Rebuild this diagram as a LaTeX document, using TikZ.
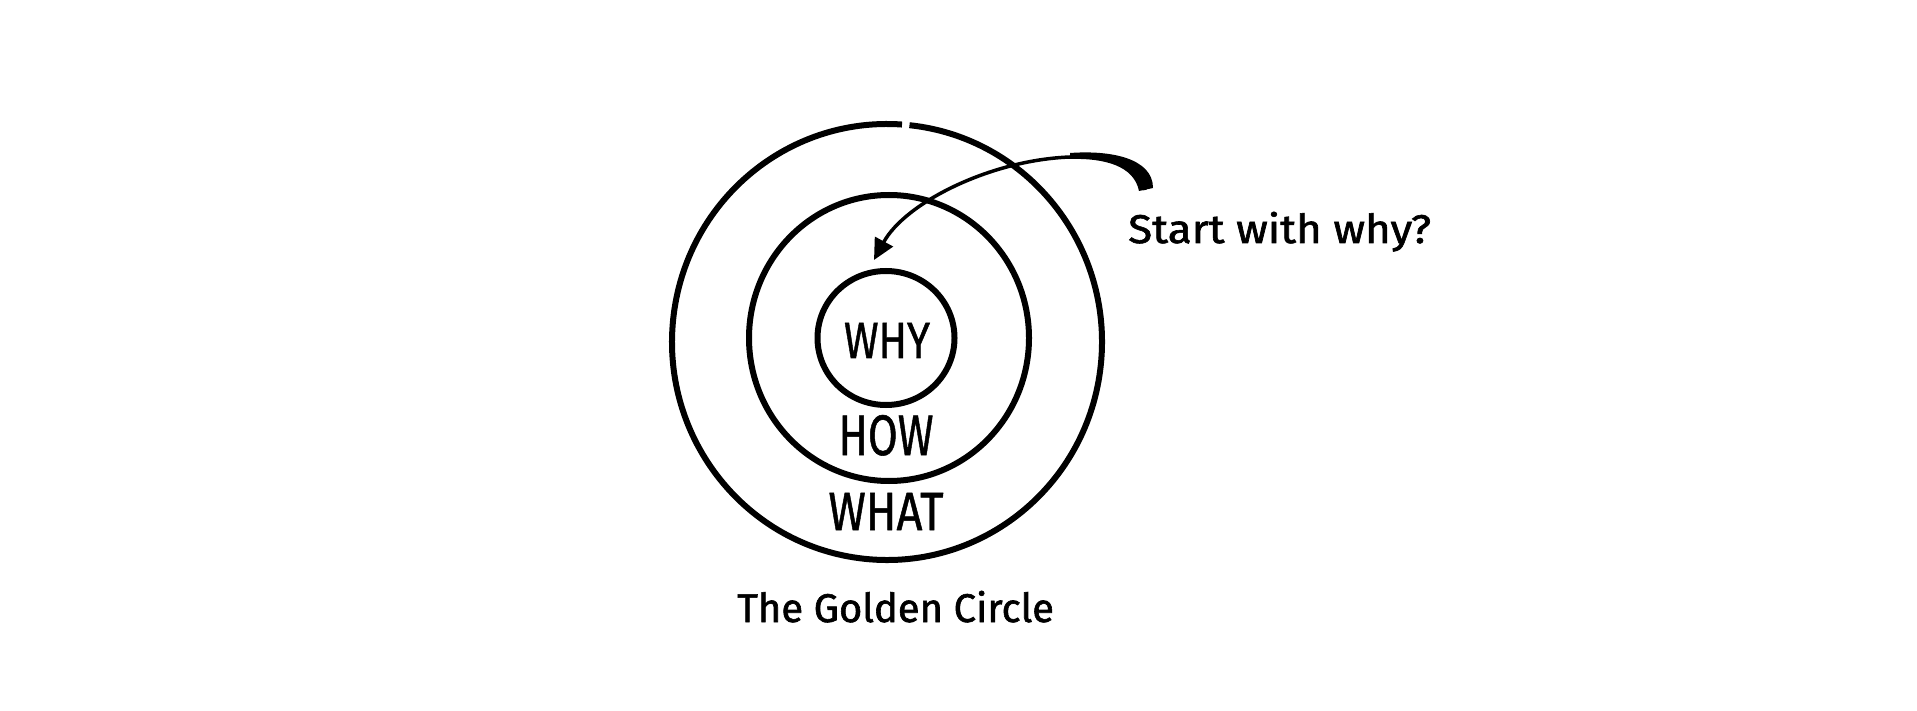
\documentclass[tikz,border=0pt]{standalone}
\usepackage{fontspec}
\usepackage{graphicx}
\setmainfont{Fira Sans}
\usetikzlibrary{shapes.geometric,arrows.meta}
\tikzset{
  ring/.style={draw=black, line width=6pt, ellipse, inner sep=0pt},
  caption/.style={font=\fontsize{40}{46}\selectfont\addfontfeature{FakeBold=1.5}, inner sep=0pt},
  word/.style={inner sep=0pt, anchor=base, font=\addfontfeature{FakeBold=1}},
  pointer/.style={line width=3.5pt, -{Triangle[length=21pt,width=20pt]}},
}
\begin{document}
\begin{tikzpicture}[x=1pt,y=-1pt]
\useasboundingbox (0,0) rectangle (1917,711);
% rings
\draw[line width=6pt] (887,342) ++(-84:215 and 218) arc[start angle=-84, end angle=274, x radius=215, y radius=218];
\coordinate (outer) at (887,342);
\node[ring, minimum width=280pt, minimum height=286pt] (middle) at (889,338) {};
\node[ring, minimum width=137pt, minimum height=134pt] (inner) at (886,338) {};
% words
\node[word] (why) at (887,358) {\resizebox{86pt}{35pt}{WHY}};
\node[word] (how) at (886,455) {\resizebox{95pt}{40pt}{HOW}};
\node[word] (what) at (886,530) {\resizebox{115pt}{37pt}{WHAT}};
% captions
\node[caption, anchor=base west] (start) at (1128,243) {\scalebox{1.1}[1]{Start with why?}};
\node[caption, anchor=base west] (golden) at (737,622) {The Golden Circle};
% arrow
\coordinate (arrowstart) at (1145,190);
\coordinate (arrowtop) at (1070,157);
\coordinate (arrowend) at (874,260);
\fill (1153,188) .. controls (1153,158) and (1110,150) .. (1070,153) -- (1070,159) .. controls (1105,158) and (1134,166) .. (1139,191) -- cycle;
\draw[pointer] (arrowstart) .. controls (1142,162) and (1105,155) .. (arrowtop) .. controls (990,160) and (905,203) .. (arrowend);
\end{tikzpicture}
\end{document}
